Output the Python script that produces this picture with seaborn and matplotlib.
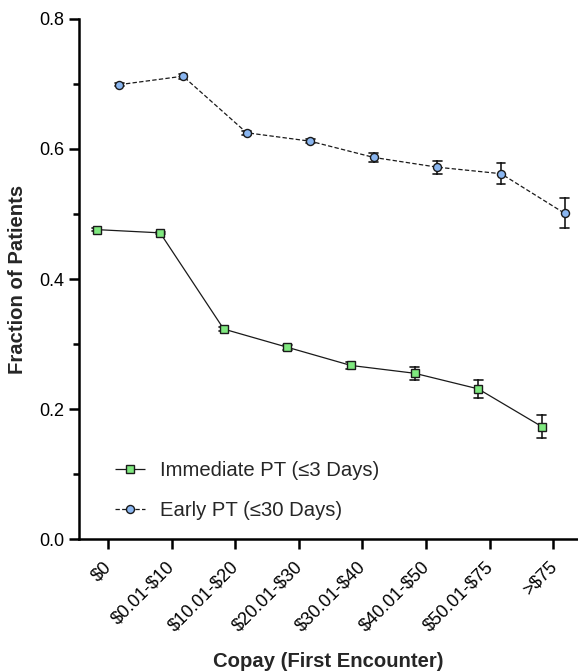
import numpy as np
import pandas as pd
import matplotlib
matplotlib.use("Agg")
import matplotlib.pyplot as plt
from matplotlib.ticker import MultipleLocator
from matplotlib.transforms import ScaledTranslation
import seaborn as sns

# ---- data ----
categories = ["$0", "$0.01-$10", "$10.01-$20", "$20.01-$30",
              "$30.01-$40", "$40.01-$50", "$50.01-$75", ">$75"]
immediate = [0.476, 0.471, 0.323, 0.295, 0.267, 0.255, 0.231, 0.173]
immediate_err = [0.002, 0.002, 0.003, 0.004, 0.005, 0.010, 0.014, 0.018]
early = [0.699, 0.712, 0.625, 0.612, 0.587, 0.572, 0.562, 0.501]
early_err = [0.002, 0.004, 0.003, 0.003, 0.007, 0.010, 0.016, 0.023]
series_names = ["Immediate PT (\u22643 Days)", "Early PT (\u226430 Days)"]
series_colors = ["#7fe87f", "#8ab6f0"]

# long-format table: (value - err, value, value + err) per point
rows = []
for name, vals, errs in [(series_names[0], immediate, immediate_err),
                         (series_names[1], early, early_err)]:
    for cat, v, e in zip(categories, vals, errs):
        for y in (v - e, v, v + e):
            rows.append({"copay": cat, "frac": y, "series": name})
df = pd.DataFrame(rows)

sns.set_style("ticks")
plt.rcParams["font.family"] = ["Liberation Sans", "DejaVu Sans"]

fig = plt.figure(figsize=(5.78, 6.71), dpi=100)
ax = fig.add_axes([0.1367, 0.1967, 0.8633, 0.775])

sns.pointplot(data=df, x="copay", y="frac", hue="series",
              order=categories, hue_order=series_names,
              palette=series_colors, markers=["s", "o"],
              linestyles=["-", "--"], dodge=0.36,
              estimator="mean", errorbar=lambda x: (x.min(), x.max()),
              capsize=0.14, legend=False, ax=ax,
              markersize=5.8, linewidth=0.9)

main_lines = []
for ln in ax.lines:
    if ln.get_marker() not in (None, "None", "", " "):
        main_lines.append(ln)
for ln, col, ls in zip(main_lines, series_colors, [(0, ()), (0, (3.5, 1.8))]):
    ln.set_color("#1a1a1a")
    ln.set_linewidth(0.9)
    ln.set_linestyle(ls)
    ln.set_markerfacecolor(col)
    ln.set_markeredgecolor("#1a1a1a")
    ln.set_markeredgewidth(1.0)
    ln.set_zorder(4)
for ln in ax.lines:
    if ln not in main_lines:
        ln.set_color("#1a1a1a")
        ln.set_linewidth(1.2)
        ln.set_zorder(3)

ax.set_xlim(-0.455, 7.39)
ax.set_ylim(0, 0.8)
ax.yaxis.set_major_locator(MultipleLocator(0.2))
ax.yaxis.set_minor_locator(MultipleLocator(0.1))
ax.set_yticklabels([f"{v:.1f}" for v in ax.get_yticks()])
ax.set_xticks(range(len(categories)))
ax.set_xticklabels([c.replace("$", r"\$") for c in categories],
                   rotation=45, ha="right", va="baseline",
                   rotation_mode="anchor")

for side in ("top", "right"):
    ax.spines[side].set_visible(False)
for side in ("left", "bottom"):
    ax.spines[side].set_linewidth(1.8)
    ax.spines[side].set_color("black")

ax.tick_params(axis="both", which="major", length=7, width=1.8,
               labelsize=13, color="black", labelcolor="black")
ax.tick_params(axis="y", which="major", pad=3.5)
ax.tick_params(axis="y", which="minor", length=4, width=1.8, color="black")
ax.tick_params(axis="x", which="major", pad=13.5)

# nudge the rotated x tick labels slightly to the right
shift = ScaledTranslation(4 / 100, 0, fig.dpi_scale_trans)
for lab in ax.get_xticklabels():
    lab.set_transform(lab.get_transform() + shift)

ax.set_xlabel("Copay (First Encounter)", fontsize=14.6, fontweight="bold")
ax.set_ylabel("Fraction of Patients", fontsize=14.6, fontweight="bold")
ax.xaxis.set_label_coords(0.5, -0.217)
ax.yaxis.set_label_coords(-0.104, 0.5)

ax.legend(main_lines, series_names, loc="upper left",
          bbox_to_anchor=(0.056, 0.166), frameon=False, fontsize=14.6,
          handlelength=1.46, handletextpad=0.78, labelspacing=1.05,
          borderaxespad=0.0, numpoints=1)

fig.savefig("out.png", dpi=100)
